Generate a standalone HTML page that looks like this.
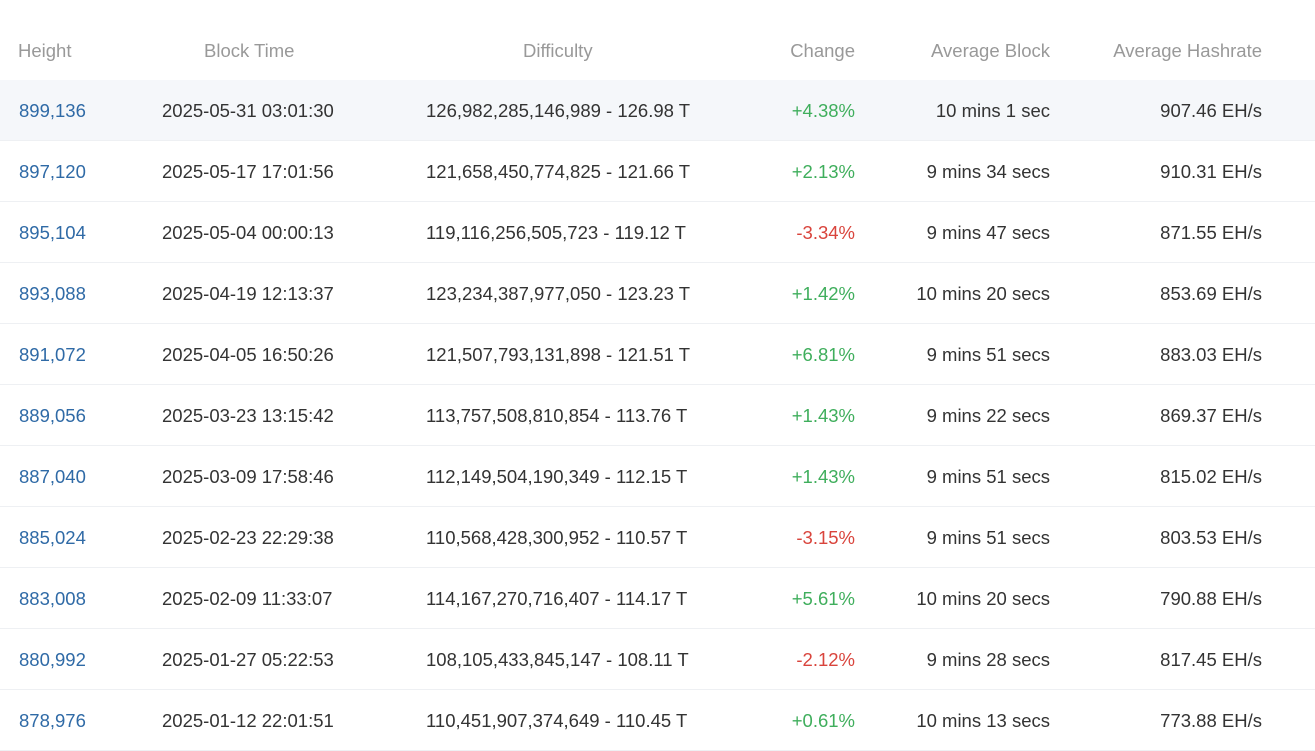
<!DOCTYPE html>
<html><head><meta charset="utf-8"><style>
body{margin:0;width:1315px;height:750px;overflow:hidden;background:#fff;font-family:"Liberation Sans",sans-serif;font-size:18.5px;color:#333;position:relative}
.t{position:absolute;white-space:nowrap;line-height:20px}
.h{color:#999;top:41px}
.row{position:absolute;left:0;width:1315px;height:60px;border-bottom:1px solid #eef0f3}
.row span{position:absolute;top:21px;white-space:nowrap;line-height:20px}
.a{left:19px;color:#2f6aa6}
.b{left:162px}
.c{left:426px}
.d{right:460px}
.e{right:265px}
.f{right:53px}
.g{color:#3fae5c}.r{color:#d9443c}
</style></head><body>
<div class="t h" style="left:18px">Height</div>
<div class="t h" style="left:204px">Block Time</div>
<div class="t h" style="left:523px">Difficulty</div>
<div class="t h" style="right:460px">Change</div>
<div class="t h" style="right:265px">Average Block</div>
<div class="t h" style="right:53px">Average Hashrate</div>

<div class="row" style="top:80px;background:#f5f7fa"><span class="a">899,136</span><span class="b">2025-05-31 03:01:30</span><span class="c">126,982,285,146,989 - 126.98 T</span><span class="d g">+4.38%</span><span class="e">10 mins 1 sec</span><span class="f">907.46 EH/s</span></div>
<div class="row" style="top:141px"><span class="a">897,120</span><span class="b">2025-05-17 17:01:56</span><span class="c">121,658,450,774,825 - 121.66 T</span><span class="d g">+2.13%</span><span class="e">9 mins 34 secs</span><span class="f">910.31 EH/s</span></div>
<div class="row" style="top:202px"><span class="a">895,104</span><span class="b">2025-05-04 00:00:13</span><span class="c">119,116,256,505,723 - 119.12 T</span><span class="d r">-3.34%</span><span class="e">9 mins 47 secs</span><span class="f">871.55 EH/s</span></div>
<div class="row" style="top:263px"><span class="a">893,088</span><span class="b">2025-04-19 12:13:37</span><span class="c">123,234,387,977,050 - 123.23 T</span><span class="d g">+1.42%</span><span class="e">10 mins 20 secs</span><span class="f">853.69 EH/s</span></div>
<div class="row" style="top:324px"><span class="a">891,072</span><span class="b">2025-04-05 16:50:26</span><span class="c">121,507,793,131,898 - 121.51 T</span><span class="d g">+6.81%</span><span class="e">9 mins 51 secs</span><span class="f">883.03 EH/s</span></div>
<div class="row" style="top:385px"><span class="a">889,056</span><span class="b">2025-03-23 13:15:42</span><span class="c">113,757,508,810,854 - 113.76 T</span><span class="d g">+1.43%</span><span class="e">9 mins 22 secs</span><span class="f">869.37 EH/s</span></div>
<div class="row" style="top:446px"><span class="a">887,040</span><span class="b">2025-03-09 17:58:46</span><span class="c">112,149,504,190,349 - 112.15 T</span><span class="d g">+1.43%</span><span class="e">9 mins 51 secs</span><span class="f">815.02 EH/s</span></div>
<div class="row" style="top:507px"><span class="a">885,024</span><span class="b">2025-02-23 22:29:38</span><span class="c">110,568,428,300,952 - 110.57 T</span><span class="d r">-3.15%</span><span class="e">9 mins 51 secs</span><span class="f">803.53 EH/s</span></div>
<div class="row" style="top:568px"><span class="a">883,008</span><span class="b">2025-02-09 11:33:07</span><span class="c">114,167,270,716,407 - 114.17 T</span><span class="d g">+5.61%</span><span class="e">10 mins 20 secs</span><span class="f">790.88 EH/s</span></div>
<div class="row" style="top:629px"><span class="a">880,992</span><span class="b">2025-01-27 05:22:53</span><span class="c">108,105,433,845,147 - 108.11 T</span><span class="d r">-2.12%</span><span class="e">9 mins 28 secs</span><span class="f">817.45 EH/s</span></div>
<div class="row" style="top:690px"><span class="a">878,976</span><span class="b">2025-01-12 22:01:51</span><span class="c">110,451,907,374,649 - 110.45 T</span><span class="d g">+0.61%</span><span class="e">10 mins 13 secs</span><span class="f">773.88 EH/s</span></div>
</body></html>
